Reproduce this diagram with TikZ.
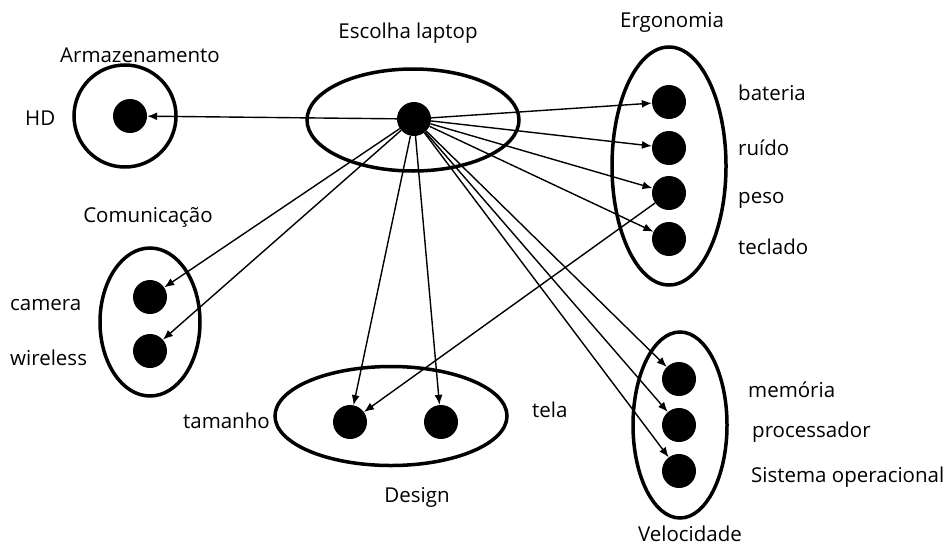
\documentclass[tikz,border=0pt]{standalone}
\usepackage{fontspec}
\setmainfont{Open Sans}
\usetikzlibrary{shapes.geometric,arrows.meta}
\begin{document}
\begin{tikzpicture}[x=1pt,y=-1pt,
  every node/.style={font=\fontsize{20.5}{24}\selectfont},
  dot/.style={circle,fill=black,draw=none,minimum size=34pt,inner sep=0pt},
  group/.style={ellipse,draw=black,line width=3.5pt,inner sep=0pt},
  lbl/.style={inner sep=0pt},
  arr/.style={line width=1.4pt,-{Latex[length=10pt,width=8pt]}}]
\useasboundingbox (0,0) rectangle (949,546);

% group outlines
\node[group,minimum width=102pt,minimum height=102pt] (gA) at (125,116) {};
\node[group,minimum width=212pt,minimum height=102pt] (gE) at (413,120) {};
\node[group,minimum width=114pt,minimum height=238pt] (gG) at (669,166) {};
\node[group,minimum width=100pt,minimum height=148pt] (gC) at (150,322) {};
\node[group,minimum width=232pt,minimum height=99pt] (gD) at (391,416) {};
\node[group,minimum width=94pt,minimum height=186pt] (gV) at (680,425) {};

% group titles
\node[lbl] (tA) at (140,55) {Armazenamento};
\node[lbl] (tE) at (408,33) {Escolha laptop};
\node[lbl] (tG) at (672,22) {Ergonomia};
\node[lbl] (tC) at (148,217) {Comunicação};
\node[lbl] (tD) at (417,497) {Design};
\node[lbl] (tV) at (690,534) {Velocidade};

% items
\node[dot] (c) at (414,119) {};
\node[dot] (hd) at (130,116) {};
\node[dot] (bat) at (669,102) {};
\node[dot] (rui) at (669,148) {};
\node[dot] (pes) at (669,193) {};
\node[dot] (tec) at (669,239) {};
\node[dot] (cam) at (150,297) {};
\node[dot] (wir) at (150,351) {};
\node[dot] (tam) at (350,422) {};
\node[dot] (tel) at (441,422) {};
\node[dot] (mem) at (679,379) {};
\node[dot] (pro) at (679,425) {};
\node[dot] (sis) at (679,471) {};

% item labels
\node[lbl,anchor=west] (lHD) at (25,118) {HD};
\node[lbl,anchor=west] (lbat) at (738,93) {bateria};
\node[lbl,anchor=west] (lrui) at (738,148) {ruído};
\node[lbl,anchor=west] (lpes) at (738,200) {peso};
\node[lbl,anchor=west] (ltec) at (738,247) {teclado};
\node[lbl,anchor=west] (lcam) at (10,305) {camera};
\node[lbl,anchor=west] (lwir) at (10,358) {wireless};
\node[lbl,anchor=east] (ltam) at (270,421) {tamanho};
\node[lbl,anchor=west] (ltel) at (532,410) {tela};
\node[lbl,anchor=west] (lmem) at (748,390) {memória};
\node[lbl,anchor=west] (lpro) at (752,432) {processador};
\node[lbl,anchor=west] (lsis) at (751,477) {Sistema operacional};

% connections
\foreach \t in {hd,bat,rui,pes,tec,cam,wir,tam,tel,mem,pro,sis}
  \draw[arr] (c) -- (\t);
\draw[arr] (pes) -- (tam);
\end{tikzpicture}
\end{document}
